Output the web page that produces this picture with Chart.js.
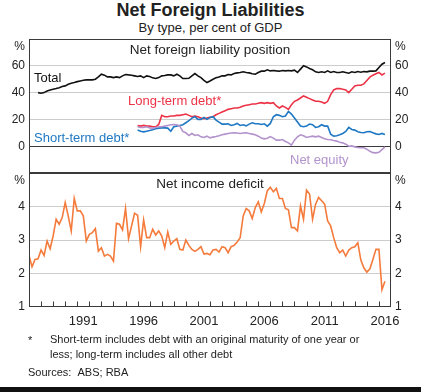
<!DOCTYPE html>
<html>
<head>
<meta charset="utf-8">
<script src="https://cdn.jsdelivr.net/npm/chart.js@4.4.1/dist/chart.umd.min.js"></script>
<style>
    html, body { margin: 0; padding: 0; background: #fff; }
    body {
        width: 421px; height: 392px; position: relative; overflow: hidden;
        font-family: "Liberation Sans", Arial, sans-serif; color: #222;
    }
    canvas { position: absolute; left: 0; top: 0; }
    .title { position: absolute; left: 0; width: 421px; text-align: center; }
    .main { top: 0; font-size: 18px; font-weight: bold; line-height: 20px; }
    .sub { top: 20px; font-size: 13px; line-height: 16px; }
    .note { position: absolute; font-size: 11px; line-height: 15px; }
    .strip { position: absolute; left: 0; top: 387px; width: 421px; height: 5px; background: #111; }
</style>
</head>
<body>
<div class="title main">Net Foreign Liabilities</div>
<div class="title sub">By type, per cent of GDP</div>
<canvas id="topChart" width="421" height="392"></canvas>
<canvas id="bottomChart" width="421" height="392"></canvas>
<div class="note" style="left:28px; top:333px;">*</div>
<div class="note" style="left:50px; top:332px;">Short-term includes debt with an original maturity of one year or<br>less; long-term includes all other debt</div>
<div class="note" style="left:28px; top:365px;">Sources:&nbsp;&nbsp;ABS; RBA</div>
<div class="strip"></div>
<script>
// Quarterly series, per cent of GDP; index 0 = first quarter of 1987
const FIRST_YEAR = 1987;
const YEAR_LABELS = [1991, 1996, 2001, 2006, 2011, 2016];

const TOTAL_START = 3;
const totalLiab = [
    40, 39.5, 40, 41.2, 42, 42.5, 43, 43.7, 44.5, 45,
    46.2, 47, 47.5, 48.2, 48.7, 49.2, 49.5, 49.5, 49.5, 50,
    51.7, 53.7, 53, 51.7, 51.7, 51.2, 51.7, 51.2, 52.5, 53.5,
    53.2, 53, 52.5, 52, 52.5, 51.2, 52.5, 52, 51, 50.5,
    51.2, 52.5, 52.7, 53.2, 53.2, 52.5, 53.7, 52.5, 50.5, 50.5,
    50.7, 52.5, 54.2, 52.5, 51.2, 49.2, 47.5, 48.7, 50, 51,
    51.7, 52.5, 52.5, 53.5, 53.2, 54.2, 54.7, 55, 55.5, 55,
    54.7, 54, 53.7, 55, 56, 56, 57, 56.2, 56.5, 56.2,
    56, 56.5, 56.2, 56.5, 56.2, 56.7, 55, 57.5, 60, 59.2,
    58, 57, 55.5, 55, 55.5, 55, 56.2, 55, 55.7, 55,
    55, 55.5, 55, 54.5, 55.5, 55, 55.7, 55.2, 55.7, 55.5,
    56, 56, 56.2, 58.7, 61.2, 62.5
];

const DEBT_START = 36;
const longTermDebt = [
    15.5, 15, 15.5, 15, 15, 14.5, 14.5, 16.2, 23, 22,
    22, 22.5, 22.5, 23, 23, 23.5, 24, 23, 22, 22.5,
    22, 21, 20.5, 21, 21.5, 22, 23.5, 24.5, 25.5, 26.5,
    27.5, 28, 28.5, 28.5, 29, 30, 30.5, 31, 31.5, 31.5,
    32, 32.5, 32, 32.5, 32, 32.5, 30, 28.5, 30, 29,
    27.5, 31, 33.5, 34.5, 36, 37.5, 36.5, 35.5, 34.5, 33.5,
    33.5, 33, 32, 33.5, 38.5, 42, 43, 43, 42.5, 42,
    40, 42.5, 45, 45.5, 45.5, 46.5, 49, 51.5, 53, 54,
    55, 53.2, 54.5
];
const shortTermDebt = [
    12, 11.2, 10.7, 11.2, 11.7, 12.3, 13, 13.5, 13.7, 13.7,
    13.5, 11.2, 14.5, 15, 15.5, 16, 17.5, 19, 21, 22,
    20, 20, 21.5, 20, 21.5, 22, 19.5, 18, 16.5, 16.5,
    16.7, 15.5, 16, 17, 15.5, 16, 15.2, 16.5, 17.5, 16.7,
    16.7, 16.2, 16.7, 15, 17, 22, 23.5, 23, 22, 22.5,
    26, 24, 21, 18, 15, 14.5, 15, 16.5, 16, 14,
    14.5, 16, 15, 15, 9, 7.5, 7.8, 8.5, 9.5, 11,
    14, 12.5, 12, 10.8, 10.2, 10, 10.8, 11, 10, 9.2,
    8.7, 9.5, 8.7
];
const netEquity = [
    14.5, 14, 14, 14.5, 13.7, 13.5, 14, 14.5, 14.5, 15,
    15.5, 16, 16.2, 16, 15, 11, 10, 8, 9.5, 8,
    8.5, 7, 6.5, 7.5, 6.2, 6.8, 7.2, 7.8, 8.5, 9,
    9.5, 9.8, 10, 9.8, 9.5, 9.8, 10, 9.5, 9, 8.5,
    7.5, 6.2, 5.5, 6, 7.2, 6, 4.5, 4.5, 5, 3.5,
    2.5, 0.8, 4.5, 7, 8.5, 7.8, 6.5, 7, 7.5, 7,
    7.5, 6.5, 5.5, 5, 4.8, 4.2, 3.8, 3, 2.5, 1.5,
    0, 0.2, -0.5, -1, -1.2, -1.2, -2.2, -3.8, -4.8, -5,
    -4.5, -2.5, -0.5
];

const INCOME_START = 0;
const incomeDeficit = [
    2.54, 2.2, 2.42, 2.44, 2.7, 2.54, 2.97, 2.74, 3.12, 3.62,
    3.47, 3.67, 4.12, 3.72, 3.27, 4.24, 3.87, 3.87, 3.72, 2.97,
    3.17, 3.22, 3.34, 2.67, 2.77, 2.52, 2.57, 2.52, 2.37, 3.5,
    3.47, 3.3, 3.94, 3.04, 3.42, 3.8, 3.74, 2.8, 3.6, 3.07,
    3.07, 3.32, 3.15, 3.27, 3.12, 2.77, 3.24, 2.87, 2.97, 3.04,
    2.72, 2.7, 3.0, 2.84, 2.72, 2.66, 2.72, 2.8, 2.58, 2.6,
    2.56, 2.7, 2.72, 2.64, 2.8, 2.77, 2.62, 2.8, 2.84, 2.94,
    3.07, 3.72, 3.94, 3.87, 3.64, 3.97, 4.14, 3.84, 4.09, 4.47,
    4.57, 4.44, 4.54, 4.24, 4.24, 3.94, 3.9, 3.37, 3.37, 3.27,
    4.02, 3.62, 4.49, 4.37, 3.62, 4.07, 4.27, 4.17, 4.07, 3.57,
    3.42, 3.07, 2.77, 2.62, 2.7, 2.52, 2.7, 2.77, 2.8, 2.92,
    2.4, 2.17, 2.04, 2.14, 2.42, 2.72, 2.72, 1.52, 1.77
];

const COLORS = {
    total: '#111111',
    longTerm: '#ec3346',
    shortTerm: '#1f78c3',
    equity: '#b393cc',
    income: '#f47b3c',
    frame: '#3a3a3a',
    grid: '#cccccc',
    text: '#222222'
};
const FONT = '"Liberation Sans", Arial, sans-serif';

Chart.defaults.font.family = FONT;
Chart.defaults.color = COLORS.text;

// quarter index -> decimal year
function toPoints(values, start) {
    return values.map((v, i) => ({ x: FIRST_YEAR + (start + i) * 0.25, y: v }));
}

function line(label, values, start, color) {
    return {
        label: label,
        data: toPoints(values, start),
        borderColor: color,
        borderWidth: 1.6,
        pointRadius: 0,
        tension: 0,
        fill: false
    };
}

// Frame, panel title, in-plot labels, % signs and year tick marks
const panelDecor = {
    id: 'panelDecor',
    afterDatasetsDraw(chart, args, opts) {
        const ctx = chart.ctx;
        const a = chart.chartArea;
        ctx.save();

        ctx.strokeStyle = COLORS.frame;
        ctx.lineWidth = 1;
        const l = Math.round(a.left) + 0.5, r = Math.round(a.right) - 0.5;
        const t = Math.round(a.top) + 0.5, b = Math.round(a.bottom) - 0.5;
        ctx.strokeRect(l, t, r - l, b - t);

        if (opts.yearTicks) {
            const xs = chart.scales.x;
            ctx.beginPath();
            for (let yr = xs.min + 1; yr < xs.max; yr++) {
                const px = Math.round(xs.getPixelForValue(yr)) + 0.5;
                ctx.moveTo(px, b);
                ctx.lineTo(px, b - 5);
            }
            ctx.stroke();
        }

        ctx.textBaseline = 'middle';
        ctx.font = '12px ' + FONT;
        ctx.fillStyle = COLORS.text;
        ctx.textAlign = 'right';
        ctx.fillText('%', a.left - 4, a.top + 8);
        ctx.textAlign = 'left';
        ctx.fillText('%', a.right + 4, a.top + 8);

        ctx.font = '13.5px ' + FONT;
        ctx.textAlign = 'center';
        ctx.fillText(opts.title, (a.left + a.right) / 2, a.top + 11);

        ctx.font = '13px ' + FONT;
        ctx.textAlign = 'left';
        (opts.labels || []).forEach(lb => {
            ctx.fillStyle = lb.color;
            ctx.fillText(lb.text, lb.x, lb.y);
        });
        ctx.restore();
    }
};

function yAxes(min, max, step, showTick) {
    const gridColor = (c) => {
        const v = c.tick.value;
        if (v === min || v === max) return 'rgba(0,0,0,0)';
        if (v === 0) return COLORS.frame;
        return COLORS.grid;
    };
    const common = {
        type: 'linear',
        min: min,
        max: max,
        border: { display: false },
        ticks: {
            stepSize: step,
            padding: 4,
            font: { size: 12 },
            color: COLORS.text,
            callback: (v) => showTick(v) ? String(v) : ''
        }
    };
    return {
        y: {
            ...common,
            position: 'left',
            grid: { color: gridColor, drawTicks: false, lineWidth: 1 },
            afterFit: (s) => { s.width = 29; }
        },
        y2: {
            ...common,
            position: 'right',
            grid: { display: false, drawTicks: false },
            afterFit: (s) => { s.width = 30; }
        }
    };
}

function xAxis(show) {
    return {
        type: 'linear',
        min: FIRST_YEAR,
        max: FIRST_YEAR + 30,
        display: show,
        border: { display: false },
        grid: { display: false, drawTicks: false },
        afterBuildTicks: (s) => { s.ticks = YEAR_LABELS.map(y => ({ value: y + 0.5 })); },
        ticks: {
            autoSkip: false,
            maxRotation: 0,
            padding: 7,
            font: { size: 13 },
            color: COLORS.text,
            callback: (v) => String(Math.floor(v))
        },
        afterFit: (s) => { s.height = show ? 30 : 0; }
    };
}

const baseOptions = {
    responsive: false,
    animation: false,
    devicePixelRatio: 1,
    events: []
};

new Chart(document.getElementById('topChart'), {
    type: 'line',
    data: {
        datasets: [
            line('Net equity', netEquity, DEBT_START, COLORS.equity),
            line('Short-term debt*', shortTermDebt, DEBT_START, COLORS.shortTerm),
            line('Long-term debt*', longTermDebt, DEBT_START, COLORS.longTerm),
            line('Total', totalLiab, TOTAL_START, COLORS.total)
        ]
    },
    options: {
        ...baseOptions,
        layout: { padding: { top: 39, bottom: 219, left: 0, right: 0 } },
        scales: {
            x: xAxis(false),
            ...yAxes(-20, 80, 20, (v) => v >= 0 && v <= 60)
        },
        plugins: {
            legend: { display: false },
            tooltip: { enabled: false },
            panelDecor: {
                title: 'Net foreign liability position',
                labels: [
                    { text: 'Total', color: COLORS.total, x: 34, y: 78 },
                    { text: 'Long-term debt*', color: COLORS.longTerm, x: 128, y: 101 },
                    { text: 'Short-term debt*', color: COLORS.shortTerm, x: 34, y: 138 },
                    { text: 'Net equity', color: COLORS.equity, x: 290, y: 160 }
                ]
            }
        }
    },
    plugins: [panelDecor]
});

new Chart(document.getElementById('bottomChart'), {
    type: 'line',
    data: {
        datasets: [
            line('Net income deficit', incomeDeficit, INCOME_START, COLORS.income)
        ]
    },
    options: {
        ...baseOptions,
        layout: { padding: { top: 173, bottom: 55, left: 0, right: 0 } },
        scales: {
            x: xAxis(true),
            ...yAxes(1, 5, 1, (v) => v <= 4)
        },
        plugins: {
            legend: { display: false },
            tooltip: { enabled: false },
            panelDecor: {
                title: 'Net income deficit',
                yearTicks: true
            }
        }
    },
    plugins: [panelDecor]
});
</script>
</body>
</html>
